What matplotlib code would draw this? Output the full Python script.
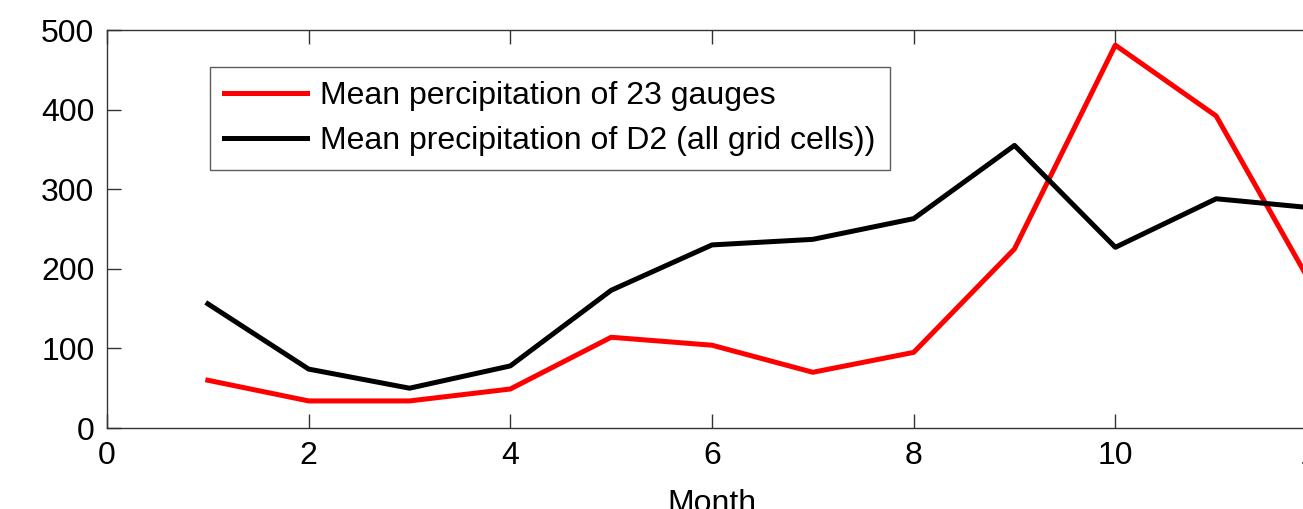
import numpy as np
import matplotlib.pyplot as plt

plt.rcParams['font.family'] = ['Liberation Sans', 'DejaVu Sans']

months = [1, 2, 3, 4, 5, 6, 7, 8, 9, 10, 11, 12]
gauges = [60, 34, 34, 49, 114, 104, 70, 95, 225, 481, 392, 168]
d2_grid = [156, 74, 50, 78, 173, 230, 237, 263, 355, 227, 288, 276]

fig = plt.figure(figsize=(13.03, 5.09), dpi=100)
# axes run past the right edge, as in the cropped original
ax = fig.add_axes([107/1303, 81/509, 1210/1303, 398/509])

ax.plot(months, gauges, color='red', linewidth=3.6, label='Mean percipitation of 23 gauges')
ax.plot(months, d2_grid, color='black', linewidth=3.6, label='Mean precipitation of D2 (all grid cells))')

ax.set_xlim(0, 12)
ax.set_ylim(0, 500)
ax.set_xticks([0, 2, 4, 6, 8, 10, 12])
ax.set_yticks([0, 100, 200, 300, 400, 500])
ax.tick_params(direction='in', length=10, width=1, colors='#333333', labelcolor='black',
               labelsize=23, top=True, right=True, pad=9)
for s in ax.spines.values():
    s.set_color('#333333')
    s.set_linewidth(1)
ax.set_xlabel('Month', fontsize=23, labelpad=13)

leg = ax.legend(loc='upper left', bbox_to_anchor=(103/1210, 1 - 37/398), fontsize=23,
                frameon=True, fancybox=False, edgecolor='#333333', handlelength=2.6,
                borderpad=0.45, labelspacing=0.45, handletextpad=0.4, borderaxespad=0)
leg.get_frame().set_linewidth(1)

fig.savefig('out.png', dpi=100)
